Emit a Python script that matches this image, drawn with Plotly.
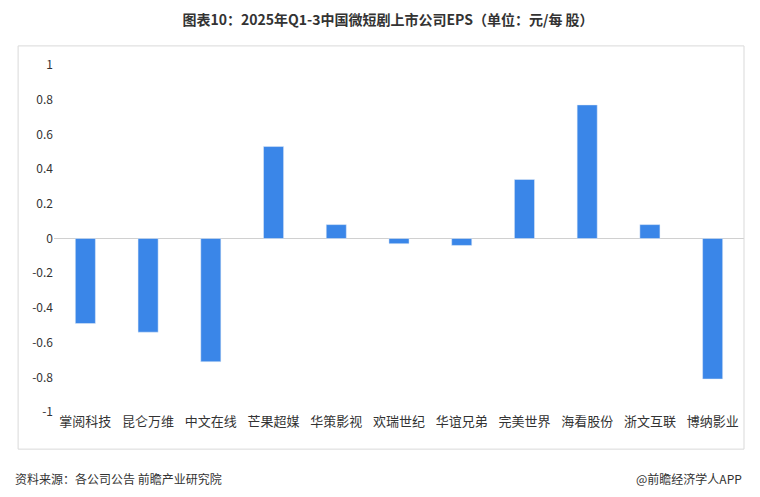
import plotly.graph_objects as go

categories = ["掌阅科技","昆仑万维","中文在线","芒果超媒","华策影视","欢瑞世纪","华谊兄弟","完美世界","海看股份","浙文互联","博纳影业"]
eps = [-0.49,-0.54,-0.71,0.53,0.08,-0.03,-0.04,0.34,0.77,0.08,-0.81]
yticks = [1,0.8,0.6,0.4,0.2,0,-0.2,-0.4,-0.6,-0.8,-1]

fig = go.Figure(go.Bar(x=categories, y=eps, marker_color="#3a86e8", width=0.32))
font = "Noto Sans CJK SC"
fig.update_layout(
    width=760, height=497, paper_bgcolor="white", plot_bgcolor="white",
    margin=dict(l=46, r=24, t=57, b=93),
    font=dict(family=font, size=13, color="#333"),
    title=dict(text="<b>图表10：2025年Q1-3中国微短剧上市公司EPS（单位：元/每 股）</b>",
               x=0.5, xanchor="center", y=0.976, yanchor="middle", font=dict(size=14, color="#333")),
    xaxis=dict(showline=False, tickfont=dict(size=13, color="#333"), ticks=""),
    yaxis=dict(range=[-1, 1], tickvals=yticks, ticktext=[str(v) for v in yticks],
               showgrid=False, zeroline=True, zerolinecolor="#d0d0d0", zerolinewidth=1,
               tickfont=dict(size=12, color="#333")),
    shapes=[dict(type="rect", xref="paper", yref="paper", x0=-0.052, x1=1.0, y0=-0.107, y1=1.055,
                 line=dict(color="#d9d9d9", width=1))],
    annotations=[
        dict(text="资料来源：各公司公告 前瞻产业研究院", xref="paper", yref="paper", x=-0.06, y=-0.193,
             xanchor="left", yanchor="middle", showarrow=False, font=dict(size=12, color="#333")),
        dict(text="@前瞻经济学人APP", xref="paper", yref="paper", x=1.0, y=-0.193,
             xanchor="right", yanchor="middle", showarrow=False, font=dict(size=12, color="#333")),
    ],
)
fig.write_html("out.html")
